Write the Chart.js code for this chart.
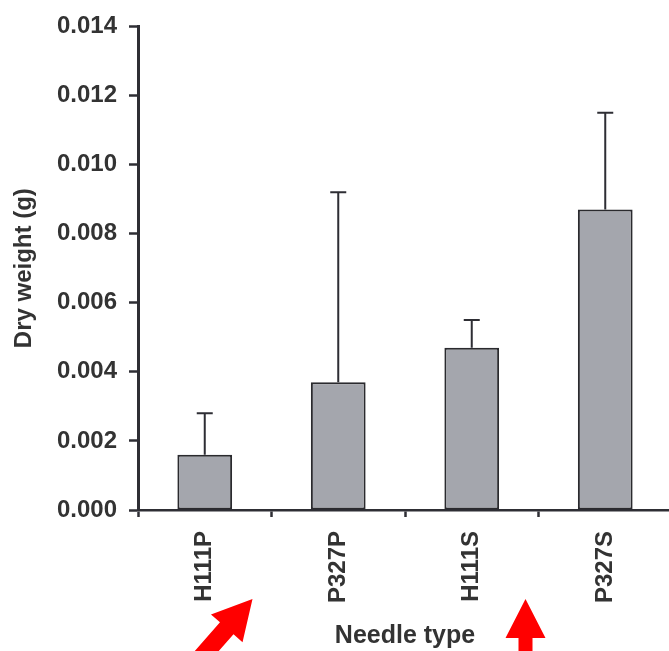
<!DOCTYPE html>
<html>
<head>
<meta charset="utf-8">
<script src="https://cdn.jsdelivr.net/npm/chart.js@4"></script>
<style>
  html, body { margin:0; padding:0; background:#ffffff; overflow:hidden; }
  #wrap { width:672px; height:651px; position:relative; }
</style>
</head>
<body>
<div id="wrap"><canvas id="c"></canvas></div>
<script>
// ---- data ----
const categories = ['H111P', 'P327P', 'H111S', 'P327S'];
const dryWeight = [0.0016, 0.0037, 0.0047, 0.0087];
const errorPlus = [0.0012, 0.0055, 0.0008, 0.0028];
const yTickMin = 0;
const yTickMax = 0.014;
const yTickStep = 0.002;
const xTitle = 'Needle type';
const yTitle = 'Dry weight (g)';

const INK = '#2e2e34';
const FONT = "'Liberation Sans', Arial, Helvetica, sans-serif";

const errorBarPlugin = {
  id: 'errorBars',
  afterDatasetsDraw(chart) {
    const ctx = chart.ctx;
    const meta = chart.getDatasetMeta(0);
    const y = chart.scales.y;
    ctx.save();
    ctx.strokeStyle = INK;
    ctx.lineWidth = 2;
    meta.data.forEach((bar, i) => {
      const top = y.getPixelForValue(dryWeight[i] + errorPlus[i]);
      const base = y.getPixelForValue(dryWeight[i]);
      const cx = bar.x;
      ctx.beginPath();
      ctx.moveTo(cx, base);
      ctx.lineTo(cx, top);
      ctx.moveTo(cx - 8, top);
      ctx.lineTo(cx + 8, top);
      ctx.stroke();
    });
    ctx.restore();
  }
};

function drawArrow(ctx, tipX, tipY, angle, headLen, headHalf, shaftHalf, shaftLen) {
  ctx.save();
  ctx.translate(tipX, tipY);
  ctx.rotate(angle);
  ctx.beginPath();
  ctx.moveTo(0, 0);
  ctx.lineTo(-headLen, -headHalf);
  ctx.lineTo(-headLen, -shaftHalf);
  ctx.lineTo(-headLen - shaftLen, -shaftHalf);
  ctx.lineTo(-headLen - shaftLen, shaftHalf);
  ctx.lineTo(-headLen, shaftHalf);
  ctx.lineTo(-headLen, headHalf);
  ctx.closePath();
  ctx.fillStyle = '#ff0000';
  ctx.fill();
  ctx.restore();
}

const arrowPlugin = {
  id: 'arrows',
  afterDraw(chart) {
    const ctx = chart.ctx;
    const x = chart.scales.x;
    const b1 = x.getPixelForValue(0.5);
    const b2 = x.getPixelForValue(2.5);
    drawArrow(ctx, b1 - 19, 599, Math.atan2(-29, 25.5), 39, 21, 9, 80);
    drawArrow(ctx, b2 - 13, 599, -Math.PI / 2, 39, 20, 7, 40);
  }
};

new Chart(document.getElementById('c'), {
  type: 'bar',
  data: {
    labels: categories,
    datasets: [{
      data: dryWeight,
      backgroundColor: '#a4a6ad',
      borderColor: '#2a2a2e',
      borderWidth: 2,
      borderSkipped: false,
      barPercentage: 0.41,
      categoryPercentage: 1.0
    }]
  },
  options: {
    responsive: true,
    maintainAspectRatio: false,
    animation: false,
    devicePixelRatio: 1,
    layout: { padding: { top: 21, right: 0, bottom: 0, left: 0 } },
    plugins: { legend: { display: false }, tooltip: { enabled: false } },
    scales: {
      x: {
        offset: true,
        grid: {
          display: true,
          drawOnChartArea: false,
          drawTicks: true,
          tickLength: 7,
          tickWidth: 2.5,
          tickColor: INK,
          offset: true
        },
        border: { display: true, color: INK, width: 2.5 },
        ticks: {
          color: '#333333',
          font: { family: FONT, size: 24, weight: 'bold' },
          minRotation: 90,
          maxRotation: 90,
          padding: 14,
          autoSkip: false
        },
        title: {
          display: true,
          text: xTitle,
          color: '#333333',
          font: { family: FONT, size: 25, weight: 'bold' },
          padding: { top: 0, bottom: 0 }
        },
        afterFit(scale) { scale.height = 141; }
      },
      y: {
        min: yTickMin,
        max: yTickMax,
        grid: {
          display: true,
          drawOnChartArea: false,
          drawTicks: true,
          tickLength: 9,
          tickWidth: 2.5,
          tickColor: INK
        },
        border: { display: true, color: INK, width: 3 },
        ticks: {
          stepSize: yTickStep,
          color: '#333333',
          font: { family: FONT, size: 24, weight: 'bold' },
          padding: 12,
          callback: (v) => Number(v).toFixed(3)
        },
        title: {
          display: true,
          text: yTitle,
          color: '#333333',
          font: { family: FONT, size: 24, weight: 'bold' },
          padding: { top: 10, bottom: 0 }
        },
        afterFit(scale) { scale.width = 138; }
      }
    }
  },
  plugins: [errorBarPlugin, arrowPlugin]
});
</script>
</body>
</html>
